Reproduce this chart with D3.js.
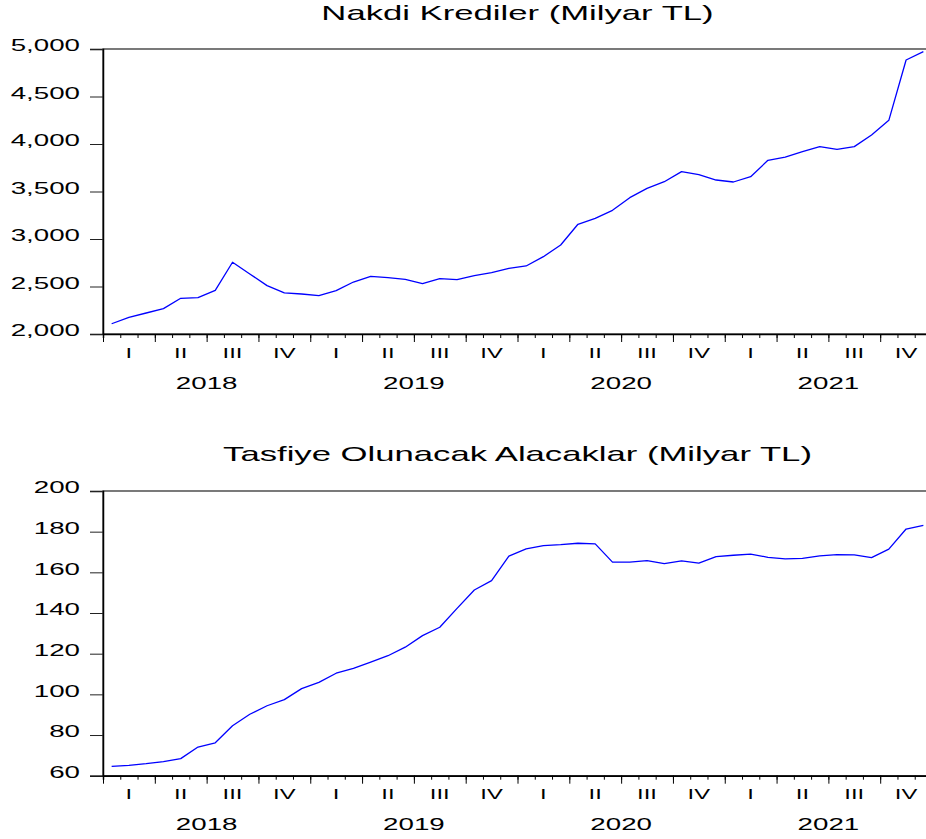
<!DOCTYPE html>
<html>
<head>
<meta charset="utf-8">
<script src="https://cdn.jsdelivr.net/npm/d3@7"></script>
<style>
  html, body { margin: 0; padding: 0; background: #fff; }
  svg { display: block; }
  text { font-family: "Liberation Sans", Arial, sans-serif; fill: #000; }
</style>
</head>
<body>
<svg id="chart" width="926" height="839"></svg>
<script>
// Monthly series, Jan 2018 – Dec 2021
const nakdiKrediler = [
  2108, 2176, 2221, 2267, 2376, 2382, 2460, 2755, 2632, 2509, 2432, 2421,
  2404, 2456, 2547, 2607, 2593, 2575, 2530, 2582, 2572, 2614, 2645, 2691,
  2716, 2814, 2937, 3155, 3218, 3302, 3435, 3533, 3603, 3709, 3677, 3621,
  3600, 3656, 3828, 3863, 3919, 3972, 3944, 3972, 4095, 4249, 4884, 4972
];
const tasfiyeAlacaklar = [
  64.6, 65.1, 65.9, 66.9, 68.4, 74.1, 76.2, 84.6, 90.2, 94.4, 97.4, 102.8,
  105.9, 110.4, 112.8, 115.8, 119.0, 123.2, 128.9, 133.0, 142.3, 151.3, 155.9, 168.0,
  171.5, 173.1, 173.6, 174.3, 174.0, 165.0, 165.0, 165.8, 164.3, 165.6, 164.5, 167.7,
  168.4, 169.0, 167.4, 166.6, 166.9, 168.1, 168.7, 168.6, 167.2, 171.4, 181.3, 183.1
];
const years = ["2018", "2019", "2020", "2021"];
const quarterLabels = ["I", "II", "III", "IV"];
const nakdiTicks = [2000, 2500, 3000, 3500, 4000, 4500, 5000];
const tasfiyeTicks = [60, 80, 100, 120, 140, 160, 180, 200];
const titles = ["Nakdi Krediler (Milyar TL)", "Tasfiye Olunacak Alacaklar (Milyar TL)"];

const svg = d3.select("#chart");
const stretch = 1.7;            // wide lettering
const fmt = d3.format(",");

const panels = [
  { title: titles[0], data: nakdiKrediler, ticks: nakdiTicks, domain: [2000, 5000],
    top: 49, bottom: 334, titleY: 19.5, qY: 358, yearY: 389 },
  { title: titles[1], data: tasfiyeAlacaklar, ticks: tasfiyeTicks, domain: [60, 200],
    top: 491, bottom: 775.7, titleY: 460.7, qY: 798.5, yearY: 829.5 }
];

const left = 103, right = 932;

function stretchedText(g, x, y, str, size, anchor) {
  g.append("g")
    .attr("transform", `translate(${x},${y}) scale(${stretch},1)`)
    .append("text")
    .attr("text-anchor", anchor)
    .style("font-size", size + "px")
    .text(str);
}

panels.forEach(p => {
  const n = p.data.length;
  const x = d3.scaleLinear().domain([0, n]).range([left, right]);
  const y = d3.scaleLinear().domain(p.domain).range([p.bottom, p.top]);
  const g = svg.append("g");

  // title
  stretchedText(g, (left + right) / 2, p.titleY, p.title, 20.4, "middle");

  // frame
  g.append("rect")
    .attr("x", left).attr("y", p.top)
    .attr("width", right - left).attr("height", p.bottom - p.top)
    .attr("fill", "none").attr("stroke", "#222").attr("stroke-width", 1.2);

  // y axis
  const yAxis = d3.axisLeft(y).tickValues(p.ticks).tickSize(13).tickFormat("");
  g.append("g").attr("transform", `translate(${left},0)`).call(yAxis)
    .call(a => a.select(".domain").attr("stroke-width", 1.5))
    .call(a => a.selectAll(".tick line").attr("stroke", "#222"));
  p.ticks.forEach(t => stretchedText(g, 80, y(t) + 2.3, fmt(t), 16.3, "end"));

  // x axis: monthly minor ticks, quarterly major ticks
  const minor = d3.axisBottom(x).tickValues(d3.range(0, n + 1)).tickSize(4).tickFormat("");
  const major = d3.axisBottom(x).tickValues(d3.range(0, n + 1, 3)).tickSize(8).tickFormat("");
  g.append("g").attr("transform", `translate(0,${p.bottom})`).call(minor)
    .call(a => a.select(".domain").attr("stroke-width", 1.5));
  g.append("g").attr("transform", `translate(0,${p.bottom})`).call(major)
    .call(a => a.select(".domain").remove());

  years.forEach((yr, yi) => {
    quarterLabels.forEach((q, qi) => {
      stretchedText(g, x(yi * 12 + qi * 3 + 1.5), p.qY, q, 14, "middle");
    });
    stretchedText(g, x(yi * 12 + 6), p.yearY, yr, 16.3, "middle");
  });

  // series line
  const line = d3.line().x((d, i) => x(i + 0.5)).y(d => y(d));
  g.append("path").datum(p.data)
    .attr("d", line)
    .attr("fill", "none")
    .attr("stroke", "#0000ff")
    .attr("stroke-width", 1.3)
    .attr("stroke-linejoin", "round");
});
</script>
</body>
</html>
